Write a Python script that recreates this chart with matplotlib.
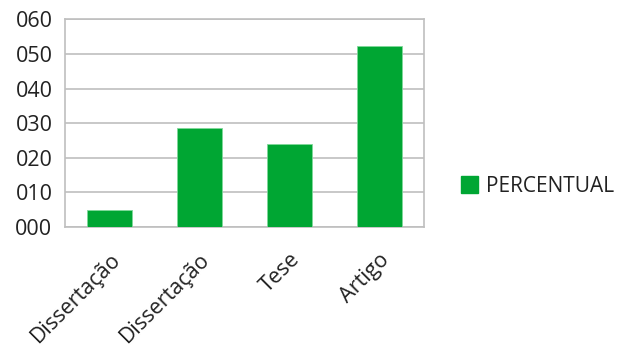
import matplotlib.pyplot as plt
import matplotlib.patches as mpatches

categories = ['Dissertação', 'Dissertação', 'Tese', 'Artigo']
percentual = [4.9, 28.7, 23.9, 52.3]
yticks = [0, 10, 20, 30, 40, 50, 60]
ytick_labels = ['%03d' % t for t in yticks]

plt.rcParams['font.family'] = ['Open Sans', 'DejaVu Sans']

fig = plt.figure(figsize=(6.19, 3.51), dpi=100)
ax = fig.add_axes([65 / 619, 1 - 227 / 351, (424 - 65) / 619, (227 - 19.5) / 351])

green = '#00a633'
x = range(len(categories))
ax.bar(x, percentual, width=0.5, color=green, edgecolor='#7fd89a', linewidth=0.6, zorder=3)

ax.set_xlim(-0.5, len(categories) - 0.5)
ax.set_ylim(0, 60)
ax.set_yticks(yticks)
ax.set_yticklabels(ytick_labels, fontsize=15.5, color='#222222')
ax.set_xticks(list(x))
ax.set_xticklabels(categories, rotation=45, ha='right', rotation_mode='anchor',
                   fontsize=15.5, color='#222222')
ax.tick_params(axis='y', length=0, pad=9)
ax.tick_params(axis='x', length=0, pad=16)

ax.grid(axis='y', color='#bfbfbf', linewidth=1.2, zorder=0)
for s in ax.spines.values():
    s.set_color('#bfbfbf')
    s.set_linewidth(1.2)

patch = mpatches.Patch(color=green, label='PERCENTUAL')
fig.legend(handles=[patch], loc='center left', bbox_to_anchor=(442 / 619, 1 - 186 / 351),
           frameon=False, fontsize=15, handlelength=0.85, handleheight=0.85,
           handletextpad=0.35, labelcolor='#222222')

fig.savefig('out.png', dpi=100)
